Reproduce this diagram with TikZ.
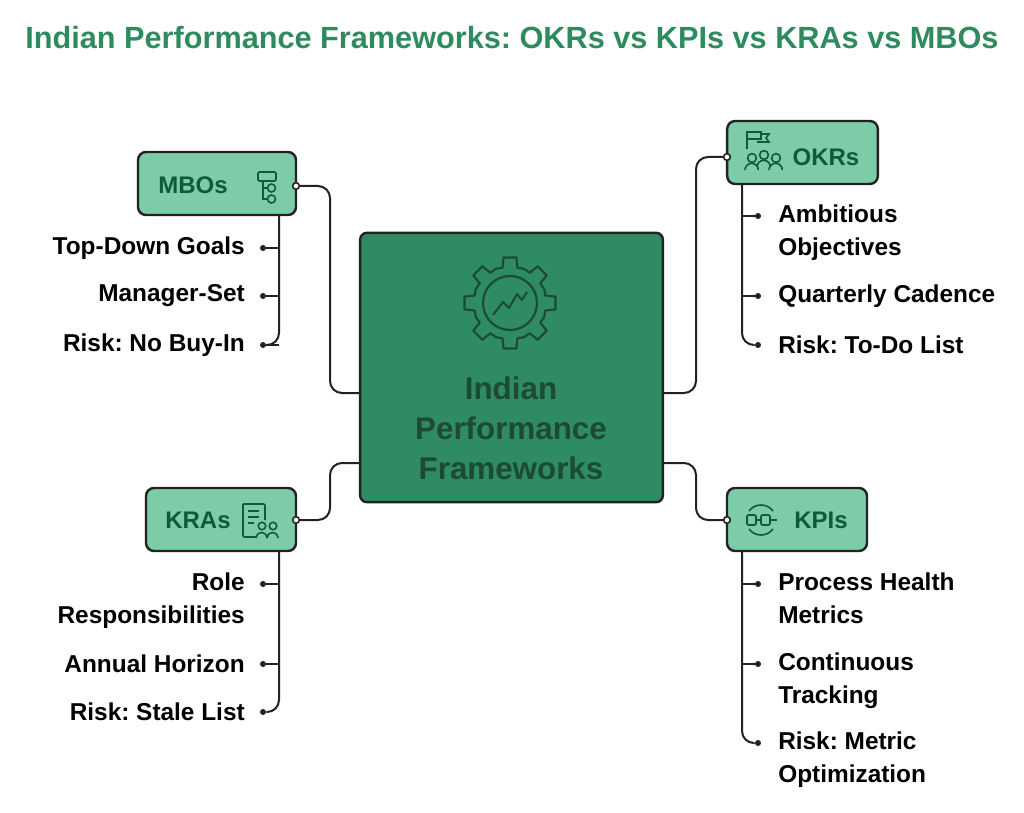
\documentclass[tikz,border=0pt]{standalone}
\usepackage{fontspec}
\setmainfont{Liberation Sans}
\frenchspacing
\begin{document}
\definecolor{ttl}{HTML}{2E8B5E}
\definecolor{cfill}{HTML}{2E8B62}
\definecolor{ctext}{HTML}{1C4A33}
\definecolor{sfill}{HTML}{7DCCA8}
\definecolor{stext}{HTML}{0F5A3A}
\definecolor{ln}{HTML}{222222}
\begin{tikzpicture}[x=0.75pt,y=-0.75pt,
  sbox/.style={draw=ln,line width=1.8pt,fill=sfill,rounded corners=6pt,minimum height=47.25pt,inner sep=0pt},
  lbl/.style={font=\fontsize{18}{20}\selectfont\bfseries,text=stext},
  item/.style={font=\fontsize{18.3}{20}\selectfont\bfseries,text=black,align=left,inner sep=0pt},
  itemr/.style={item,align=right},
  conn/.style={draw=ln,line width=1.5pt,rounded corners=9pt},
  odot/.style={circle,draw=ln,fill=white,line width=1.2pt,inner sep=0pt,minimum size=5pt},
  bdot/.style={circle,fill=ln,inner sep=0pt,minimum size=4.5pt},
  ico/.style={draw=stext,line width=1.2pt}]
\useasboundingbox (0,0) rectangle (1024,813);
\node[font=\fontsize{23}{26}\selectfont\bfseries,text=ttl] (title) at (512,38) {Indian Performance Frameworks: OKRs vs KPIs vs KRAs vs MBOs};
% center
\node[draw=ln,line width=1.8pt,fill=cfill,rounded corners=5pt,minimum width=227pt,minimum height=202pt] (c) at (511.5,367.5) {};
\node[font=\fontsize{23.5}{30}\selectfont\bfseries,text=ctext,align=center] (ct) at (511,428) {Indian\\Performance\\Frameworks};
% gear
\draw[draw=ctext,line width=1.6pt,line join=round]
 ({510+36*cos(-12)},{303+36*sin(-12)})
 \foreach \i in {0,...,7} {
   -- ({510+36*cos(\i*45-12)},{303+36*sin(\i*45-12)})
   -- ({510+46*cos(\i*45-8)},{303+46*sin(\i*45-8)})
   -- ({510+46*cos(\i*45+8)},{303+46*sin(\i*45+8)})
   -- ({510+36*cos(\i*45+12)},{303+36*sin(\i*45+12)})
   -- ({510+37*cos(\i*45+22.5)},{303+37*sin(\i*45+22.5)})
 } -- cycle;
\draw[draw=ctext,line width=1.6pt] (510,303) circle[radius=27*0.75pt];
\draw[draw=ctext,line width=1.5pt,line join=round] (493,315) -- (503,302) -- (509,308) -- (517,294) -- (522,300) -- (527,292);
% small boxes
\node[sbox,minimum width=118.5pt] (mbo) at (217,183.5) {};
\node[lbl] (mbot) at (193,185) {MBOs};
\draw[ico,rounded corners=1pt] (258,172) rectangle (276,181);
\draw[ico] (263,181) -- (263,199) -- (268,199) (263,188) -- (268,188);
\draw[ico] (271.5,188) circle[radius=3pt] (271.5,199) circle[radius=3pt];
\node[sbox,minimum width=113pt] (okr) at (802.5,152.5) {};
\node[lbl] (okrt) at (826,157) {OKRs};
\draw[ico] (747,149) -- (747,132) -- (761,132) -- (761,139) -- (747,139) (761,134) -- (769,134) -- (766,138) -- (769,142) -- (757,142);
\draw[ico] (752,158) circle[radius=3.3pt] (764,155) circle[radius=3.3pt] (776,158) circle[radius=3.3pt];
\draw[ico] (745,170) arc[start angle=180,end angle=0,radius=5pt] (757,167) arc[start angle=180,end angle=0,radius=5pt] (769,170) arc[start angle=180,end angle=0,radius=5pt];
\node[sbox,minimum width=112.5pt] (kra) at (221,519.5) {};
\node[lbl] (krat) at (198,520) {KRAs};
\draw[ico,rounded corners=1pt] (243,504) -- (243,537) -- (256,537) (265,520) -- (265,504) -- (243,504);
\draw[ico] (248,511) -- (259,511) (248,517) -- (259,517) (248,523) -- (254,523);
\draw[ico] (262,526) circle[radius=2.8pt] (273,526) circle[radius=2.8pt] (256,538) arc[start angle=180,end angle=0,radius=4.2pt] (267,538) arc[start angle=180,end angle=0,radius=4.2pt];
\node[sbox,minimum width=105pt] (kpi) at (797,519.5) {};
\node[lbl] (kpit) at (821,520) {KPIs};
\draw[ico,rounded corners=1pt] (747,515) rectangle (756,525) (761,515) rectangle (770,525);
\draw[ico] (756,520) -- (761,520) (770,520) -- (777,520);
\draw[ico] (749,511) .. controls (755,503) and (767,503) .. (773,511);
\draw[ico] (749,529) .. controls (755,537) and (767,537) .. (773,529);
% ports
\node[odot] (pm) at (296,186) {};
\node[odot] (po) at (727,157) {};
\node[odot] (pk) at (296,520) {};
\node[odot] (pp) at (727,520) {};
\coordinate (cml) at (360,393);
\coordinate (ckl) at (360,463);
\coordinate (cor) at (663,393);
\coordinate (cpr) at (663,463);
\draw[conn] (pm) -- (330,186) -- (330,393) -- (cml);
\draw[conn] (pk) -- (330,520) -- (330,463) -- (ckl);
\draw[conn] (po) -- (696,157) -- (696,393) -- (cor);
\draw[conn] (pp) -- (696,520) -- (696,463) -- (cpr);
% MBO items
\foreach \y/\t [count=\n] in {248/Top-Down Goals,296/Manager-Set,345/Risk: No Buy-In}{
  \node[bdot] (md\n) at (263,\y) {};
  \node[itemr,anchor=east] (mi\n) at (245,\y) {\t};
  \draw[conn] (md\n) -- (279,\y);
}
\draw[conn] (279,215) -- (279,345) -- (md3);
% KRA items
\node[bdot] (kd1) at (263,584) {}; \node[itemr,anchor=north east] (ki1) at (245,573) {Role\\[4.5pt]Responsibilities};
\node[bdot] (kd2) at (263,664) {}; \node[itemr,anchor=east] (ki2) at (245,664) {Annual Horizon};
\node[bdot] (kd3) at (263,712) {}; \node[itemr,anchor=east] (ki3) at (245,712) {Risk: Stale List};
\draw[conn] (kd1) -- (279,584) (kd2) -- (279,664);
\draw[conn] (279,551) -- (279,712) -- (kd3);
% OKR items
\node[bdot] (od1) at (758,216) {}; \node[item,anchor=north west] (oi1) at (778,205) {Ambitious\\[4.5pt]Objectives};
\node[bdot] (od2) at (758,296) {}; \node[item,anchor=west] (oi2) at (778,296) {Quarterly Cadence};
\node[bdot] (od3) at (758,345) {}; \node[item,anchor=west] (oi3) at (778,345) {Risk: To-Do List};
\draw[conn] (od1) -- (742,216) (od2) -- (742,296);
\draw[conn] (742,184) -- (742,345) -- (od3);
% KPI items
\node[bdot] (pd1) at (758,584) {}; \node[item,anchor=north west] (pi1) at (778,573) {Process Health\\[4.5pt]Metrics};
\node[bdot] (pd2) at (758,664) {}; \node[item,anchor=north west] (pi2) at (778,653) {Continuous\\[4.5pt]Tracking};
\node[bdot] (pd3) at (758,743) {}; \node[item,anchor=north west] (pi3) at (778,732) {Risk: Metric\\[4.5pt]Optimization};
\draw[conn] (pd1) -- (742,584) (pd2) -- (742,664);
\draw[conn] (742,551) -- (742,743) -- (pd3);
\end{tikzpicture}
\end{document}
